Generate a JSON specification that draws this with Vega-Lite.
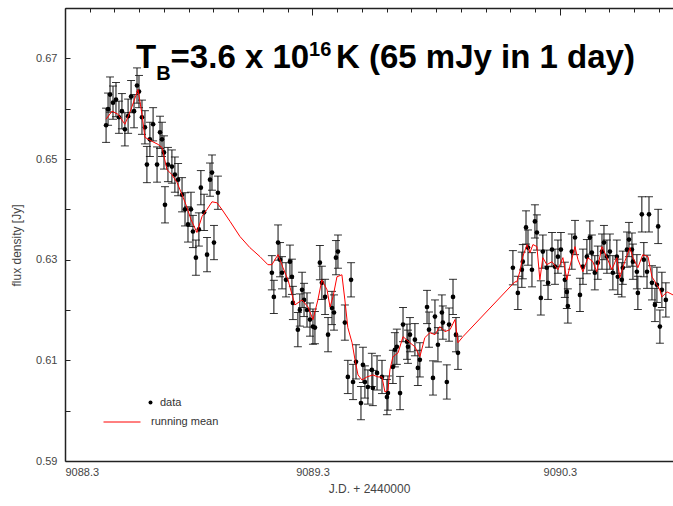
{
  "$schema": "https://vega.github.io/schema/vega-lite/v6.json",
  "width": 608,
  "height": 453,
  "autosize": {"type": "none"},
  "padding": {"left": 65, "top": 8, "right": 0, "bottom": 45},
  "background": "white",
  "config": {
    "view": {"stroke": null},
    "font": "Liberation Sans",
    "axis": {
      "ticks": false,
      "grid": true,
      "gridColor": "#222",
      "gridWidth": 1,
      "gridOpacity": 1,
      "domainColor": "#222",
      "domainWidth": 1.5,
      "labelFont": "Liberation Sans",
      "labelFontSize": 11,
      "labelColor": "#444",
      "titleFont": "Liberation Sans",
      "titleFontSize": 12,
      "titleFontWeight": "normal",
      "titleColor": "#444"
    },
    "legend": {
      "labelFont": "Liberation Sans",
      "labelFontSize": 11,
      "labelColor": "#333",
      "padding": 0
    }
  },
  "datasets": {
    "obs": [
      {"jd": 9088.466, "flux": 0.6567, "err": 0.0034},
      {"jd": 9088.474, "flux": 0.6599, "err": 0.0032},
      {"jd": 9088.482, "flux": 0.6628, "err": 0.0035},
      {"jd": 9088.494, "flux": 0.6612, "err": 0.0033},
      {"jd": 9088.506, "flux": 0.6618, "err": 0.0034},
      {"jd": 9088.518, "flux": 0.6583, "err": 0.0032},
      {"jd": 9088.530, "flux": 0.6595, "err": 0.0035},
      {"jd": 9088.542, "flux": 0.6559, "err": 0.0033},
      {"jd": 9088.555, "flux": 0.6585, "err": 0.0034},
      {"jd": 9088.567, "flux": 0.6624, "err": 0.0032},
      {"jd": 9088.579, "flux": 0.6595, "err": 0.0033},
      {"jd": 9088.591, "flux": 0.6646, "err": 0.0035},
      {"jd": 9088.599, "flux": 0.6634, "err": 0.0032},
      {"jd": 9088.611, "flux": 0.6583, "err": 0.0034},
      {"jd": 9088.623, "flux": 0.6563, "err": 0.0033},
      {"jd": 9088.631, "flux": 0.6489, "err": 0.0036},
      {"jd": 9088.643, "flux": 0.6539, "err": 0.0034},
      {"jd": 9088.656, "flux": 0.6569, "err": 0.0033},
      {"jd": 9088.672, "flux": 0.6489, "err": 0.0035},
      {"jd": 9088.684, "flux": 0.6553, "err": 0.0032},
      {"jd": 9088.692, "flux": 0.6539, "err": 0.0034},
      {"jd": 9088.700, "flux": 0.6513, "err": 0.0033},
      {"jd": 9088.704, "flux": 0.6409, "err": 0.0036},
      {"jd": 9088.716, "flux": 0.6489, "err": 0.0034},
      {"jd": 9088.732, "flux": 0.6485, "err": 0.0033},
      {"jd": 9088.744, "flux": 0.6469, "err": 0.0035},
      {"jd": 9088.757, "flux": 0.6459, "err": 0.0032},
      {"jd": 9088.773, "flux": 0.6429, "err": 0.0034},
      {"jd": 9088.785, "flux": 0.6400, "err": 0.0033},
      {"jd": 9088.797, "flux": 0.6370, "err": 0.0035},
      {"jd": 9088.809, "flux": 0.6400, "err": 0.0034},
      {"jd": 9088.817, "flux": 0.6356, "err": 0.0032},
      {"jd": 9088.829, "flux": 0.6304, "err": 0.0035},
      {"jd": 9088.841, "flux": 0.6360, "err": 0.0033},
      {"jd": 9088.849, "flux": 0.6443, "err": 0.0034},
      {"jd": 9088.862, "flux": 0.6394, "err": 0.0036},
      {"jd": 9088.874, "flux": 0.6310, "err": 0.0034},
      {"jd": 9088.886, "flux": 0.6459, "err": 0.0033},
      {"jd": 9088.894, "flux": 0.6473, "err": 0.0035},
      {"jd": 9088.902, "flux": 0.6334, "err": 0.0034},
      {"jd": 9088.918, "flux": 0.6433, "err": 0.0033},
      {"jd": 9089.136, "flux": 0.6274, "err": 0.0034},
      {"jd": 9089.144, "flux": 0.6226, "err": 0.0033},
      {"jd": 9089.161, "flux": 0.6334, "err": 0.0035},
      {"jd": 9089.169, "flux": 0.6300, "err": 0.0034},
      {"jd": 9089.177, "flux": 0.6274, "err": 0.0032},
      {"jd": 9089.193, "flux": 0.6260, "err": 0.0034},
      {"jd": 9089.209, "flux": 0.6296, "err": 0.0033},
      {"jd": 9089.217, "flux": 0.6266, "err": 0.0035},
      {"jd": 9089.221, "flux": 0.6214, "err": 0.0033},
      {"jd": 9089.241, "flux": 0.6161, "err": 0.0034},
      {"jd": 9089.249, "flux": 0.6200, "err": 0.0032},
      {"jd": 9089.258, "flux": 0.6240, "err": 0.0035},
      {"jd": 9089.266, "flux": 0.6220, "err": 0.0033},
      {"jd": 9089.278, "flux": 0.6200, "err": 0.0034},
      {"jd": 9089.290, "flux": 0.6181, "err": 0.0033},
      {"jd": 9089.302, "flux": 0.6167, "err": 0.0035},
      {"jd": 9089.310, "flux": 0.6165, "err": 0.0032},
      {"jd": 9089.330, "flux": 0.6294, "err": 0.0034},
      {"jd": 9089.338, "flux": 0.6254, "err": 0.0033},
      {"jd": 9089.351, "flux": 0.6226, "err": 0.0035},
      {"jd": 9089.363, "flux": 0.6151, "err": 0.0034},
      {"jd": 9089.379, "flux": 0.6204, "err": 0.0033},
      {"jd": 9089.387, "flux": 0.6195, "err": 0.0035},
      {"jd": 9089.395, "flux": 0.6304, "err": 0.0034},
      {"jd": 9089.403, "flux": 0.6316, "err": 0.0033},
      {"jd": 9089.431, "flux": 0.6175, "err": 0.0035},
      {"jd": 9089.456, "flux": 0.6260, "err": 0.0034},
      {"jd": 9089.443, "flux": 0.6067, "err": 0.0033},
      {"jd": 9089.464, "flux": 0.6057, "err": 0.0035},
      {"jd": 9089.476, "flux": 0.6097, "err": 0.0034},
      {"jd": 9089.496, "flux": 0.6015, "err": 0.0033},
      {"jd": 9089.504, "flux": 0.6091, "err": 0.0035},
      {"jd": 9089.512, "flux": 0.6057, "err": 0.0032},
      {"jd": 9089.524, "flux": 0.6047, "err": 0.0034},
      {"jd": 9089.540, "flux": 0.6081, "err": 0.0033},
      {"jd": 9089.544, "flux": 0.6045, "err": 0.0035},
      {"jd": 9089.561, "flux": 0.6075, "err": 0.0034},
      {"jd": 9089.581, "flux": 0.6067, "err": 0.0033},
      {"jd": 9089.601, "flux": 0.6027, "err": 0.0035},
      {"jd": 9089.605, "flux": 0.6035, "err": 0.0034},
      {"jd": 9089.625, "flux": 0.6087, "err": 0.0033},
      {"jd": 9089.633, "flux": 0.6121, "err": 0.0034},
      {"jd": 9089.641, "flux": 0.6127, "err": 0.0035},
      {"jd": 9089.654, "flux": 0.6035, "err": 0.0033},
      {"jd": 9089.666, "flux": 0.6171, "err": 0.0034},
      {"jd": 9089.682, "flux": 0.6137, "err": 0.0035},
      {"jd": 9089.686, "flux": 0.6127, "err": 0.0033},
      {"jd": 9089.694, "flux": 0.6151, "err": 0.0034},
      {"jd": 9089.714, "flux": 0.6141, "err": 0.0032},
      {"jd": 9089.726, "flux": 0.6085, "err": 0.0035},
      {"jd": 9089.734, "flux": 0.6101, "err": 0.0034},
      {"jd": 9089.763, "flux": 0.6206, "err": 0.0033},
      {"jd": 9089.771, "flux": 0.6161, "err": 0.0035},
      {"jd": 9089.787, "flux": 0.6065, "err": 0.0034},
      {"jd": 9089.795, "flux": 0.6187, "err": 0.0033},
      {"jd": 9089.807, "flux": 0.6131, "err": 0.0034},
      {"jd": 9089.823, "flux": 0.6195, "err": 0.0035},
      {"jd": 9089.827, "flux": 0.6175, "err": 0.0033},
      {"jd": 9089.843, "flux": 0.6057, "err": 0.0034},
      {"jd": 9089.852, "flux": 0.6171, "err": 0.0033},
      {"jd": 9089.868, "flux": 0.6226, "err": 0.0035},
      {"jd": 9089.880, "flux": 0.6151, "err": 0.0034},
      {"jd": 9089.888, "flux": 0.6115, "err": 0.0033},
      {"jd": 9090.110, "flux": 0.6284, "err": 0.0034},
      {"jd": 9090.130, "flux": 0.6234, "err": 0.0033},
      {"jd": 9090.146, "flux": 0.6280, "err": 0.0035},
      {"jd": 9090.150, "flux": 0.6296, "err": 0.0034},
      {"jd": 9090.163, "flux": 0.6364, "err": 0.0033},
      {"jd": 9090.171, "flux": 0.6324, "err": 0.0035},
      {"jd": 9090.187, "flux": 0.6280, "err": 0.0034},
      {"jd": 9090.199, "flux": 0.6376, "err": 0.0033},
      {"jd": 9090.207, "flux": 0.6354, "err": 0.0035},
      {"jd": 9090.223, "flux": 0.6224, "err": 0.0034},
      {"jd": 9090.231, "flux": 0.6316, "err": 0.0033},
      {"jd": 9090.247, "flux": 0.6284, "err": 0.0035},
      {"jd": 9090.252, "flux": 0.6254, "err": 0.0033},
      {"jd": 9090.268, "flux": 0.6320, "err": 0.0034},
      {"jd": 9090.280, "flux": 0.6286, "err": 0.0035},
      {"jd": 9090.292, "flux": 0.6306, "err": 0.0033},
      {"jd": 9090.304, "flux": 0.6320, "err": 0.0034},
      {"jd": 9090.320, "flux": 0.6260, "err": 0.0035},
      {"jd": 9090.328, "flux": 0.6236, "err": 0.0033},
      {"jd": 9090.332, "flux": 0.6208, "err": 0.0034},
      {"jd": 9090.348, "flux": 0.6316, "err": 0.0035},
      {"jd": 9090.361, "flux": 0.6344, "err": 0.0034},
      {"jd": 9090.381, "flux": 0.6230, "err": 0.0033},
      {"jd": 9090.393, "flux": 0.6286, "err": 0.0035},
      {"jd": 9090.409, "flux": 0.6306, "err": 0.0034},
      {"jd": 9090.421, "flux": 0.6344, "err": 0.0033},
      {"jd": 9090.429, "flux": 0.6314, "err": 0.0035},
      {"jd": 9090.441, "flux": 0.6274, "err": 0.0034},
      {"jd": 9090.453, "flux": 0.6294, "err": 0.0033},
      {"jd": 9090.470, "flux": 0.6316, "err": 0.0035},
      {"jd": 9090.478, "flux": 0.6334, "err": 0.0034},
      {"jd": 9090.490, "flux": 0.6306, "err": 0.0033},
      {"jd": 9090.502, "flux": 0.6316, "err": 0.0035},
      {"jd": 9090.514, "flux": 0.6274, "err": 0.0034},
      {"jd": 9090.530, "flux": 0.6306, "err": 0.0033},
      {"jd": 9090.534, "flux": 0.6266, "err": 0.0035},
      {"jd": 9090.550, "flux": 0.6260, "err": 0.0034},
      {"jd": 9090.554, "flux": 0.6284, "err": 0.0033},
      {"jd": 9090.571, "flux": 0.6320, "err": 0.0035},
      {"jd": 9090.579, "flux": 0.6340, "err": 0.0034},
      {"jd": 9090.591, "flux": 0.6320, "err": 0.0033},
      {"jd": 9090.595, "flux": 0.6296, "err": 0.0035},
      {"jd": 9090.611, "flux": 0.6276, "err": 0.0034},
      {"jd": 9090.615, "flux": 0.6234, "err": 0.0033},
      {"jd": 9090.631, "flux": 0.6390, "err": 0.0035},
      {"jd": 9090.639, "flux": 0.6300, "err": 0.0034},
      {"jd": 9090.652, "flux": 0.6276, "err": 0.0033},
      {"jd": 9090.660, "flux": 0.6390, "err": 0.0035},
      {"jd": 9090.672, "flux": 0.6254, "err": 0.0034},
      {"jd": 9090.684, "flux": 0.6210, "err": 0.0033},
      {"jd": 9090.692, "flux": 0.6250, "err": 0.0035},
      {"jd": 9090.697, "flux": 0.6366, "err": 0.0034},
      {"jd": 9090.704, "flux": 0.6167, "err": 0.0033},
      {"jd": 9090.712, "flux": 0.6240, "err": 0.0035},
      {"jd": 9090.728, "flux": 0.6220, "err": 0.0034}
    ],
    "mean": [
      {"jd": 9088.466, "mean": 0.6579},
      {"jd": 9088.490, "mean": 0.6595},
      {"jd": 9088.514, "mean": 0.6589},
      {"jd": 9088.542, "mean": 0.6569},
      {"jd": 9088.567, "mean": 0.6599},
      {"jd": 9088.595, "mean": 0.6638},
      {"jd": 9088.611, "mean": 0.6589},
      {"jd": 9088.623, "mean": 0.6543},
      {"jd": 9088.652, "mean": 0.6535},
      {"jd": 9088.676, "mean": 0.6529},
      {"jd": 9088.692, "mean": 0.6523},
      {"jd": 9088.712, "mean": 0.6479},
      {"jd": 9088.732, "mean": 0.6469},
      {"jd": 9088.753, "mean": 0.6453},
      {"jd": 9088.773, "mean": 0.6429},
      {"jd": 9088.789, "mean": 0.6409},
      {"jd": 9088.809, "mean": 0.6380},
      {"jd": 9088.833, "mean": 0.6354},
      {"jd": 9088.854, "mean": 0.6386},
      {"jd": 9088.874, "mean": 0.6400},
      {"jd": 9088.894, "mean": 0.6415},
      {"jd": 9088.914, "mean": 0.6413},
      {"jd": 9088.934, "mean": 0.6400},
      {"jd": 9088.967, "mean": 0.6376},
      {"jd": 9089.007, "mean": 0.6346},
      {"jd": 9089.047, "mean": 0.6324},
      {"jd": 9089.088, "mean": 0.6306},
      {"jd": 9089.120, "mean": 0.6290},
      {"jd": 9089.136, "mean": 0.6290},
      {"jd": 9089.161, "mean": 0.6310},
      {"jd": 9089.181, "mean": 0.6284},
      {"jd": 9089.201, "mean": 0.6260},
      {"jd": 9089.229, "mean": 0.6210},
      {"jd": 9089.258, "mean": 0.6220},
      {"jd": 9089.282, "mean": 0.6206},
      {"jd": 9089.302, "mean": 0.6181},
      {"jd": 9089.322, "mean": 0.6220},
      {"jd": 9089.338, "mean": 0.6260},
      {"jd": 9089.359, "mean": 0.6240},
      {"jd": 9089.371, "mean": 0.6206},
      {"jd": 9089.383, "mean": 0.6226},
      {"jd": 9089.399, "mean": 0.6266},
      {"jd": 9089.419, "mean": 0.6270},
      {"jd": 9089.431, "mean": 0.6220},
      {"jd": 9089.443, "mean": 0.6165},
      {"jd": 9089.460, "mean": 0.6135},
      {"jd": 9089.472, "mean": 0.6101},
      {"jd": 9089.484, "mean": 0.6071},
      {"jd": 9089.500, "mean": 0.6061},
      {"jd": 9089.520, "mean": 0.6067},
      {"jd": 9089.544, "mean": 0.6071},
      {"jd": 9089.565, "mean": 0.6067},
      {"jd": 9089.581, "mean": 0.6067},
      {"jd": 9089.593, "mean": 0.6037},
      {"jd": 9089.605, "mean": 0.6041},
      {"jd": 9089.613, "mean": 0.6081},
      {"jd": 9089.625, "mean": 0.6107},
      {"jd": 9089.646, "mean": 0.6115},
      {"jd": 9089.666, "mean": 0.6147},
      {"jd": 9089.694, "mean": 0.6135},
      {"jd": 9089.714, "mean": 0.6127},
      {"jd": 9089.734, "mean": 0.6107},
      {"jd": 9089.754, "mean": 0.6145},
      {"jd": 9089.775, "mean": 0.6155},
      {"jd": 9089.795, "mean": 0.6151},
      {"jd": 9089.815, "mean": 0.6167},
      {"jd": 9089.835, "mean": 0.6157},
      {"jd": 9089.856, "mean": 0.6161},
      {"jd": 9089.876, "mean": 0.6181},
      {"jd": 9089.888, "mean": 0.6135},
      {"jd": 9089.908, "mean": 0.6147},
      {"jd": 9090.118, "mean": 0.6256},
      {"jd": 9090.126, "mean": 0.6256},
      {"jd": 9090.138, "mean": 0.6276},
      {"jd": 9090.150, "mean": 0.6306},
      {"jd": 9090.167, "mean": 0.6330},
      {"jd": 9090.179, "mean": 0.6314},
      {"jd": 9090.191, "mean": 0.6330},
      {"jd": 9090.207, "mean": 0.6326},
      {"jd": 9090.219, "mean": 0.6260},
      {"jd": 9090.231, "mean": 0.6304},
      {"jd": 9090.247, "mean": 0.6290},
      {"jd": 9090.268, "mean": 0.6296},
      {"jd": 9090.292, "mean": 0.6280},
      {"jd": 9090.312, "mean": 0.6304},
      {"jd": 9090.328, "mean": 0.6260},
      {"jd": 9090.340, "mean": 0.6286},
      {"jd": 9090.361, "mean": 0.6326},
      {"jd": 9090.373, "mean": 0.6300},
      {"jd": 9090.393, "mean": 0.6276},
      {"jd": 9090.413, "mean": 0.6304},
      {"jd": 9090.433, "mean": 0.6296},
      {"jd": 9090.449, "mean": 0.6276},
      {"jd": 9090.470, "mean": 0.6326},
      {"jd": 9090.490, "mean": 0.6304},
      {"jd": 9090.510, "mean": 0.6280},
      {"jd": 9090.530, "mean": 0.6304},
      {"jd": 9090.542, "mean": 0.6264},
      {"jd": 9090.562, "mean": 0.6296},
      {"jd": 9090.583, "mean": 0.6324},
      {"jd": 9090.595, "mean": 0.6304},
      {"jd": 9090.615, "mean": 0.6284},
      {"jd": 9090.635, "mean": 0.6310},
      {"jd": 9090.656, "mean": 0.6306},
      {"jd": 9090.672, "mean": 0.6266},
      {"jd": 9090.692, "mean": 0.6250},
      {"jd": 9090.704, "mean": 0.6240},
      {"jd": 9090.712, "mean": 0.6226},
      {"jd": 9090.733, "mean": 0.6236},
      {"jd": 9090.757, "mean": 0.6230}
    ]
  },
  "layer": [
    {
      "data": {"name": "obs"},
      "mark": {"type": "errorbar", "ticks": {"size": 8, "color": "#111", "opacity": 0.85}, "rule": {"strokeWidth": 1.2, "color": "#111", "opacity": 0.85}},
      "encoding": {
        "x": {
          "field": "jd", "type": "quantitative",
          "scale": {"domain": [9088.3, 9090.757], "nice": false, "zero": false},
          "axis": {
            "title": "J.D. + 2440000",
            "values": [9088.3, 9088.4, 9088.5, 9088.6, 9088.7, 9088.8, 9088.9, 9089.0, 9089.1, 9089.2, 9089.3, 9089.4, 9089.5, 9089.6, 9089.7, 9089.8, 9089.9, 9090.0, 9090.1, 9090.2, 9090.3, 9090.4, 9090.5, 9090.6, 9090.7],
            "labelExpr": "abs((datum.value + 0.7) - round(datum.value + 0.7)) < 0.01 ? format(datum.value, '.1f') : ''",
            "gridDash": {"condition": {"test": "abs((datum.value + 0.7) - round(datum.value + 0.7)) < 0.01", "value": [7, 3000]}, "value": [4, 3000]},
            "labelPadding": 5,
            "titlePadding": 6
          }
        },
        "y": {
          "field": "flux", "type": "quantitative",
          "scale": {"domain": [0.59, 0.68], "nice": false, "zero": false},
          "axis": {
            "title": "flux density [Jy]",
            "values": [0.59, 0.60, 0.61, 0.62, 0.63, 0.64, 0.65, 0.66, 0.67, 0.68],
            "labelExpr": "round(datum.value * 100) % 2 == 1 ? format(datum.value, '.2f') : ''",
            "gridDash": [5, 3000],
            "labelPadding": 8,
            "titlePadding": 12,
            "titleY": 237
          }
        },
        "yError": {"field": "err"}
      }
    },
    {
      "data": {"name": "obs"},
      "mark": {"type": "circle", "opacity": 1, "size": 22},
      "encoding": {
        "x": {"field": "jd", "type": "quantitative", "axis": null},
        "y": {"field": "flux", "type": "quantitative", "title": "flux density [Jy]"},
        "color": {
          "datum": "data",
          "scale": {"range": ["black"]},
          "legend": {"orient": "none", "legendX": 80, "legendY": 389, "title": null, "symbolSize": 16, "symbolType": "circle", "labelOffset": 4}
        }
      }
    },
    {
      "data": {"name": "mean"},
      "mark": {"type": "line", "strokeWidth": 1, "interpolate": "linear"},
      "encoding": {
        "x": {
          "field": "jd", "type": "quantitative",
          "axis": {
            "orient": "top", "labels": false, "title": null,
            "values": [9088.3, 9088.4, 9088.5, 9088.6, 9088.7, 9088.8, 9088.9, 9089.0, 9089.1, 9089.2, 9089.3, 9089.4, 9089.5, 9089.6, 9089.7, 9089.8, 9089.9, 9090.0, 9090.1, 9090.2, 9090.3, 9090.4, 9090.5, 9090.6, 9090.7],
            "gridDash": {"condition": {"test": "abs((datum.value + 0.7) - round(datum.value + 0.7)) < 0.01", "value": [7, 3000]}, "value": [4, 3000]}
          }
        },
        "y": {"field": "mean", "type": "quantitative", "title": "flux density [Jy]"},
        "stroke": {
          "datum": "running mean",
          "scale": {"range": ["red"]},
          "legend": {"orient": "none", "legendX": 38, "legendY": 395, "title": null, "symbolType": "stroke", "symbolSize": 1369, "symbolStrokeWidth": 1, "labelOffset": 10}
        }
      }
    },
    {
      "data": {"values": [{}]},
      "mark": {"type": "text", "align": "left", "baseline": "alphabetic", "fontSize": 33, "fontWeight": "bold", "font": "Liberation Sans", "color": "black"},
      "encoding": {
        "x": {"datum": 9088.5869, "type": "quantitative", "axis": null},
        "y": {"datum": 0.668, "type": "quantitative"},
        "text": {"value": "T"}
      }
    },
    {
      "data": {"values": [{}]},
      "mark": {"type": "text", "align": "left", "baseline": "alphabetic", "fontSize": 20, "fontWeight": "bold", "font": "Liberation Sans", "color": "black"},
      "encoding": {
        "x": {"datum": 9088.6685, "type": "quantitative", "axis": null},
        "y": {"datum": 0.6656, "type": "quantitative"},
        "text": {"value": "B"}
      }
    },
    {
      "data": {"values": [{}]},
      "mark": {"type": "text", "align": "left", "baseline": "alphabetic", "fontSize": 33, "fontWeight": "bold", "font": "Liberation Sans", "color": "black"},
      "encoding": {
        "x": {"datum": 9088.7267, "type": "quantitative", "axis": null},
        "y": {"datum": 0.668, "type": "quantitative"},
        "text": {"value": "=3.6 x 10"}
      }
    },
    {
      "data": {"values": [{}]},
      "mark": {"type": "text", "align": "left", "baseline": "alphabetic", "fontSize": 20, "fontWeight": "bold", "font": "Liberation Sans", "color": "black"},
      "encoding": {
        "x": {"datum": 9089.2863, "type": "quantitative", "axis": null},
        "y": {"datum": 0.6704, "type": "quantitative"},
        "text": {"value": "16"}
      }
    },
    {
      "data": {"values": [{}]},
      "mark": {"type": "text", "align": "left", "baseline": "alphabetic", "fontSize": 33, "fontWeight": "bold", "font": "Liberation Sans", "color": "black"},
      "encoding": {
        "x": {"datum": 9089.3949, "type": "quantitative", "axis": null},
        "y": {"datum": 0.668, "type": "quantitative"},
        "text": {"value": "K (65 mJy in 1 day)"}
      }
    }
  ],
  "resolve": {"axis": {"x": "independent"}, "legend": {"color": "independent", "stroke": "independent"}}
}
